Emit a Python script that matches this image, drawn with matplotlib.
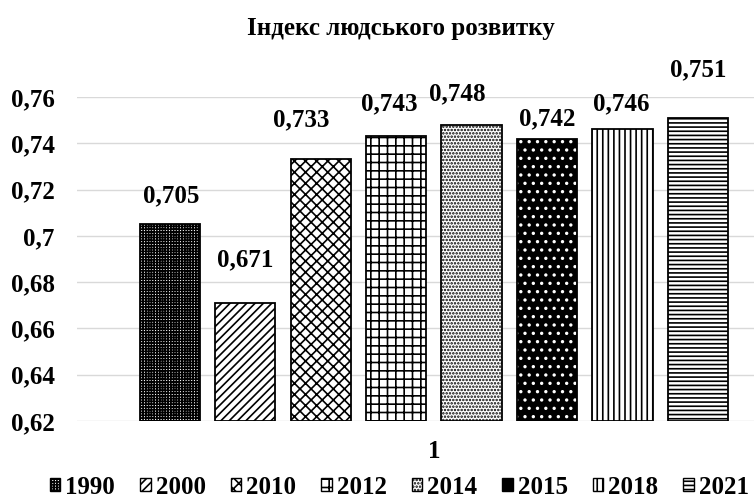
import numpy as np
import matplotlib
matplotlib.use('Agg')
import matplotlib.pyplot as plt
from matplotlib.patches import Patch

plt.rcParams['font.family'] = ['Liberation Serif', 'DejaVu Serif']
plt.rcParams['font.weight'] = 'bold'
plt.rcParams['hatch.linewidth'] = 1.2

# Data
years = ['1990', '2000', '2010', '2012', '2014', '2015', '2018', '2021']
hdi = [0.705, 0.671, 0.733, 0.743, 0.748, 0.742, 0.746, 0.751]
yticks = [0.62, 0.64, 0.66, 0.68, 0.70, 0.72, 0.74, 0.76]

# Styles per bar (face, hatch, hatch colour)
faces = ['white', 'white', 'white', 'white', 'white', 'black', 'white', 'white']
hatches = ['++++++', '////', 'xxx', '++', '.....', '..', '|||', '----']
hatch_cols = ['black', 'black', 'black', 'black', 'black', 'white', 'black', 'black']
# label offsets in points (dx, dy) to mimic Excel placement
lab_dx = [1, 0, -14, -5, -10, 0, -1, 0]
lab_dy = [12, 23, 20, 15, 14, 6, 10, 26]

def comma(v):
    return f"{v:g}".replace('.', ',')

fig = plt.figure(figsize=(7.54, 5.0), dpi=100)
ax = fig.add_axes([0.102, 0.158, 0.947, 0.648])

x = np.arange(len(years))
for i in range(len(years)):
    ax.bar(x[i], hdi[i] - 0.62, 0.8, bottom=0.62, color=faces[i], hatch=hatches[i],
           edgecolor=hatch_cols[i], linewidth=0, zorder=2)
    ax.bar(x[i], hdi[i] - 0.62, 0.8, bottom=0.62, fill=False, edgecolor='black',
           linewidth=1.3, zorder=3)
    ax.annotate(comma(hdi[i]), (x[i], hdi[i]), xytext=(lab_dx[i], lab_dy[i]),
                textcoords='offset points', ha='center', va='bottom',
                fontsize=18, fontweight='bold', annotation_clip=False)

ax.set_ylim(0.62, 0.76)
ax.set_xlim(-1.23, 8.23)
ax.set_yticks(yticks)
ax.set_yticklabels([comma(v) for v in yticks], fontsize=18, fontweight='bold')
ax.set_xticks([3.5])
ax.set_xticklabels(['1'], fontsize=18, fontweight='bold')
ax.tick_params(length=0, pad=16, axis='y')
ax.tick_params(length=0, pad=14, axis='x')
ax.grid(axis='y', color='#d9d9d9', linewidth=1, zorder=0)
for s in ax.spines.values():
    s.set_visible(False)

fig.text(0.532, 0.944, 'Індекс людського розвитку', ha='center', va='center',
         fontsize=18, fontweight='bold')

handles = [Patch(facecolor=faces[i], hatch=hatches[i], edgecolor='black')
           for i in range(len(years))]
fig.legend(handles, years, loc='center left', bbox_to_anchor=(0.066, 0.026), ncol=8,
           frameon=False, fontsize=18, handlelength=0.42, handleheight=0.42,
           handletextpad=0.2, columnspacing=1.0, borderaxespad=0, borderpad=0)

fig.savefig('out.png', dpi=100)
